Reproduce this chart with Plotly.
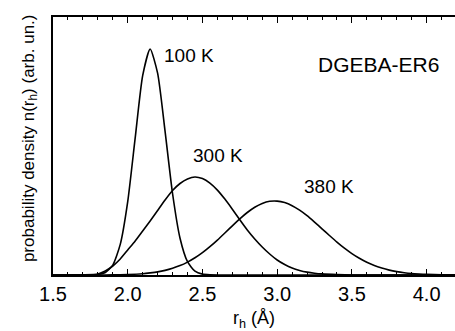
import plotly.graph_objects as go

# x grid (Å) for each curve and the probability densities (arb. units)
x_100 = [1.50, 1.70, 1.80, 1.85, 1.90, 1.95, 2.00, 2.05, 2.10, 2.15, 2.20, 2.25, 2.30, 2.35,
         2.40, 2.45, 2.50, 2.55, 2.65, 4.20]
n_100 = [0.0, 0.1, 0.5, 2.5, 9.9, 30.6, 73.4, 137.1, 199.4, 226.0, 201.8, 143.6, 81.5, 36.8,
         13.3, 3.8, 0.9, 0.2, 0.0, 0.0]

x_300 = [1.50, 1.70, 1.80, 1.85, 1.90, 1.95, 2.00, 2.05, 2.10, 2.15, 2.20, 2.25, 2.30, 2.35,
         2.40, 2.45, 2.50, 2.55, 2.60, 2.65, 2.70, 2.75, 2.80, 2.85, 2.90, 2.95, 3.00, 3.05,
         3.10, 3.15, 3.20, 3.25, 3.30, 3.40, 3.50, 4.20]
n_300 = [0.0, 0.2, 1.0, 4.0, 9.0, 16.0, 25.0, 34.0, 44.0, 54.0, 64.5, 75.0, 84.5, 91.5,
         96.0, 98.0, 96.4, 91.9, 84.9, 75.9, 65.8, 55.2, 45.0, 36.0, 28.0, 21.0, 15.0, 10.5,
         7.0, 4.6, 2.9, 1.8, 1.1, 0.4, 0.0, 0.0]

x_380 = [1.50, 1.80, 1.90, 2.00, 2.10, 2.15, 2.20, 2.25, 2.30, 2.35, 2.40, 2.45, 2.50, 2.55,
         2.60, 2.65, 2.70, 2.75, 2.80, 2.85, 2.90, 2.95, 3.00, 3.05, 3.10, 3.15, 3.20, 3.25,
         3.30, 3.35, 3.40, 3.45, 3.50, 3.55, 3.60, 3.65, 3.70, 3.75, 3.80, 3.85, 3.90, 3.95,
         4.00, 4.10, 4.20]
n_380 = [0.0, 0.0, 0.1, 0.5, 1.3, 2.1, 3.1, 4.6, 6.7, 9.4, 12.9, 17.2, 22.3, 28.3,
         34.9, 42.0, 49.2, 56.2, 62.5, 67.8, 71.6, 73.7, 73.9, 72.4, 69.3, 64.8, 59.3, 52.9,
         46.2, 39.5, 32.9, 26.8, 21.4, 16.7, 12.7, 9.4, 6.9, 4.9, 3.4, 2.3, 1.5, 1.0,
         0.6, 0.2, 0.1]

labels = ["100 K", "300 K", "380 K"]
label_x = [2.41, 2.605, 3.35]
label_y = [220, 120, 89]

x_ticks = [1.5, 2.0, 2.5, 3.0, 3.5, 4.0]
x_ticktext = ["1.5", "2.0", "2.5", "3.0", "3.5", "4.0"]

fig = go.Figure()
for xs, ys in [(x_100, n_100), (x_300, n_300), (x_380, n_380)]:
    fig.add_trace(go.Scatter(x=xs, y=ys, mode="lines",
                             line=dict(color="black", width=1.6, shape="spline", smoothing=0.6),
                             showlegend=False, hoverinfo="skip"))

font = "Liberation Sans, Arial, sans-serif"
for t, lx, ly in zip(labels, label_x, label_y):
    fig.add_annotation(x=lx, y=ly, text=t, showarrow=False,
                       font=dict(family=font, size=19, color="black"))

fig.add_annotation(x=3.68, y=211, text="DGEBA-ER6", showarrow=False,
                   font=dict(family=font, size=21, color="black"))

fig.add_annotation(xref="paper", yref="paper", x=-0.09, y=0.53,
                   text="probability density n(r<sub>h</sub>) (arb. un.)",
                   textangle=-90, showarrow=False,
                   font=dict(family=font, size=17, color="black"))

fig.update_layout(
    width=455, height=331,
    margin=dict(l=53, r=0, t=17, b=56),
    paper_bgcolor="white", plot_bgcolor="white",
    font=dict(family=font, color="black"),
    xaxis=dict(range=[1.5, 4.19], tickvals=x_ticks, ticktext=x_ticktext,
               ticks="inside", ticklen=6, tickwidth=1, tickcolor="black",
               showline=True, linecolor="black", linewidth=1.5, mirror="ticks",
               showgrid=False, zeroline=False,
               tickfont=dict(size=20, family=font),
               minor=dict(dtick=0.1, ticks="inside", ticklen=3, tickcolor="black", showgrid=False),
               title=dict(text="r<sub>h</sub> (Å)", font=dict(size=18, family=font), standoff=11)),
    yaxis=dict(range=[0, 258], showticklabels=False, ticks="",
               showline=True, linecolor="black", linewidth=1.5, mirror=False,
               showgrid=False, zeroline=False),
)

fig.write_html("out.html")
